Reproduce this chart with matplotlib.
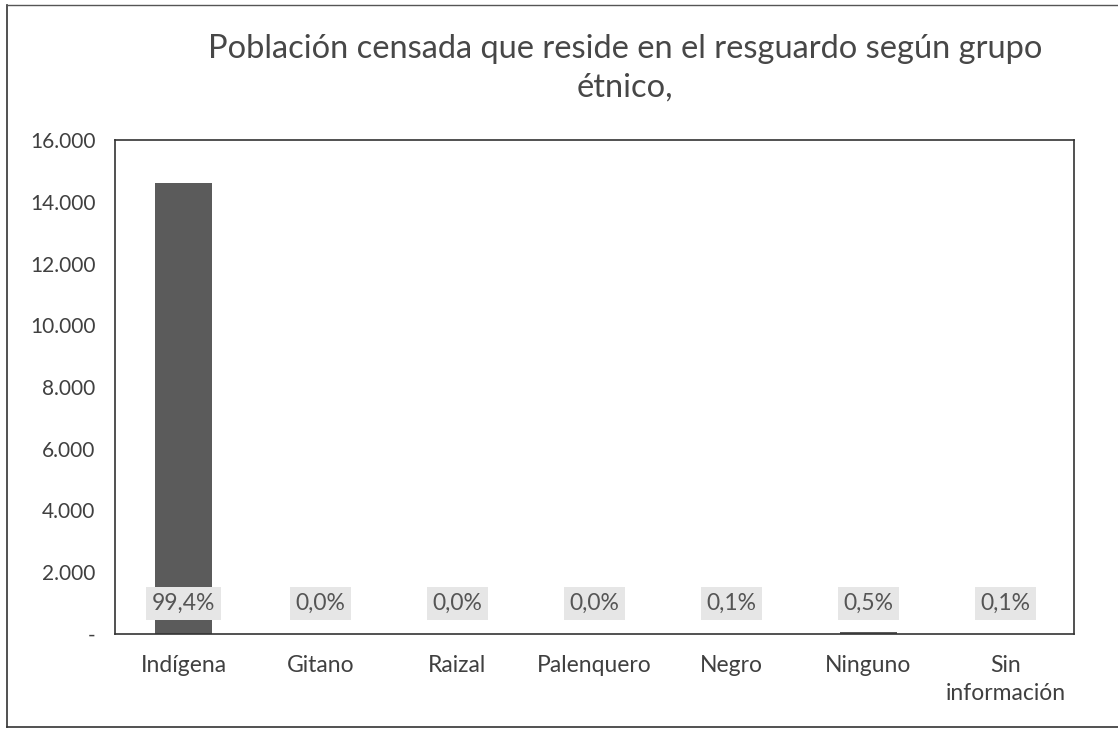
import matplotlib
matplotlib.use("Agg")
import matplotlib.pyplot as plt
from matplotlib.lines import Line2D
from matplotlib.ticker import FixedLocator, FuncFormatter

categories = ["Indígena", "Gitano", "Raizal", "Palenquero", "Negro", "Ninguno", "Sin\ninformación"]
values = [14600, 2, 3, 1, 15, 73, 15]
pct_labels = ["99,4%", "0,0%", "0,0%", "0,0%", "0,1%", "0,5%", "0,1%"]
yticks = [0, 2000, 4000, 6000, 8000, 10000, 12000, 14000, 16000]
title = "Población censada que reside en el resguardo según grupo\nétnico,"

plt.rcParams["font.family"] = ["Lato", "DejaVu Sans"]

W, H = 1118, 730
fig = plt.figure(figsize=(W/100, H/100), dpi=100)
L, R, T, B = 115, 1074, 140, 634
ax = fig.add_axes([L/W, 1-B/H, (R-L)/W, (B-T)/H])

x = range(len(categories))
ax.bar(x, values, width=0.41, color="#5b5b5b", zorder=2)
ax.set_xlim(-0.5, len(categories) - 0.5)
ax.set_ylim(0, 16000)

ax.yaxis.set_major_locator(FixedLocator(yticks))
def fmt(v, pos):
    if v == 0:
        return "-"
    return f"{int(v):,}".replace(",", ".")
ax.yaxis.set_major_formatter(FuncFormatter(fmt))
ax.set_xticks(list(x))
ax.set_xticklabels(categories, fontsize=16.5, color="#404040", linespacing=1.45)
ax.tick_params(axis="x", length=0, pad=15)
ax.tick_params(axis="y", length=0, pad=14, labelsize=15, labelcolor="#404040")

for s in ax.spines.values():
    s.set_color("#333333")
    s.set_linewidth(1.2)

for xi, lab in zip(x, pct_labels):
    ax.annotate(lab, xy=(xi, 0), xytext=(0, 22), textcoords="offset points",
                ha="center", va="center", fontsize=16.5, color="#555555",
                bbox=dict(boxstyle="square,pad=0.25", facecolor="#e6e6e6", edgecolor="none"),
                zorder=3)

fig.text(625/W, 1-68/H, title, ha="center", va="center", fontsize=23.5,
         color="#474747", linespacing=1.35)

# outer chart border (left, bottom, top)
fig.add_artist(Line2D([7/W, 7/W], [1-727/H, 1-5/H], color="#333333", lw=1.2))
fig.add_artist(Line2D([7/W, 1.0], [1-727/H, 1-727/H], color="#333333", lw=1.2))
fig.add_artist(Line2D([7/W, 1.0], [1-5/H, 1-5/H], color="#555555", lw=1.0))

fig.savefig("out.png", dpi=100)
